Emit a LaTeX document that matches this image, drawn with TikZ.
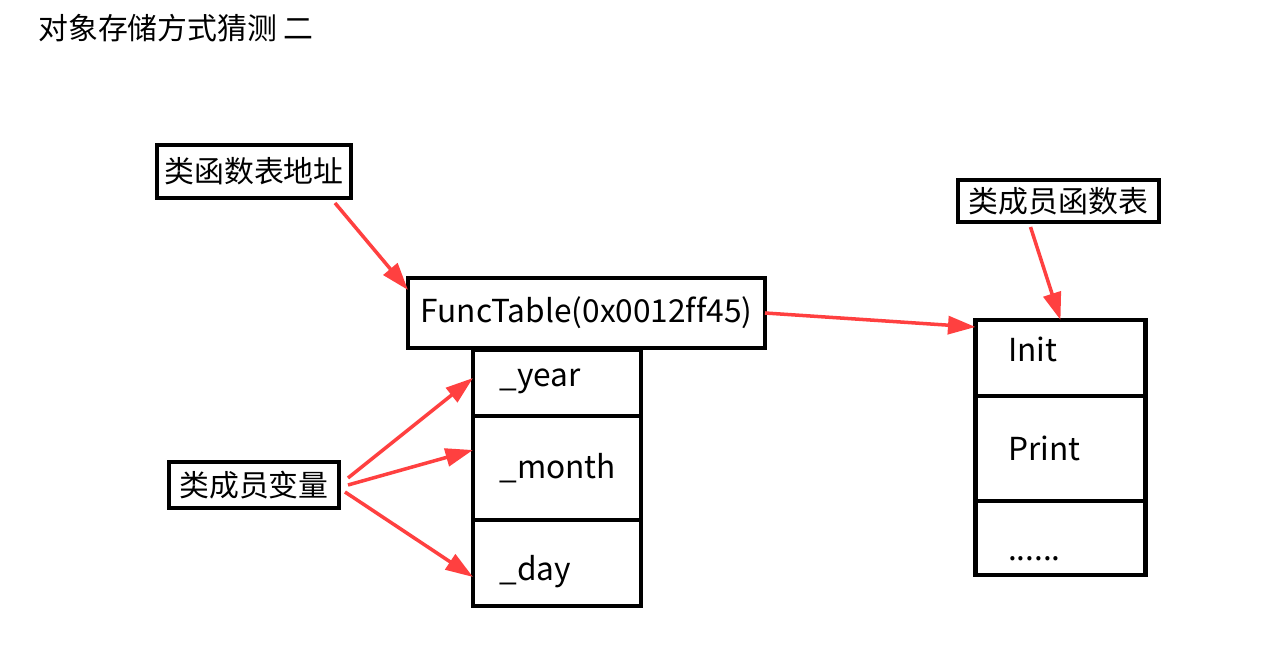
\documentclass[tikz,border=0pt]{standalone}
\usepackage{fontspec}
\setmainfont[Ligatures=NoCommon]{Noto Sans CJK SC}
\usepackage{tikz}
\usetikzlibrary{arrows.meta,positioning}
\definecolor{arrowred}{RGB}{255,64,64}
\newcommand{\shiftup}[2]{\raisebox{#1}{#2}}

\begin{document}
\begin{tikzpicture}[
        font=\fontsize{17pt}{20pt}\selectfont,
        box/.style={draw,line width=2.3pt,outer sep=0pt,inner sep=0pt,
                    minimum height=1cm},
        field/.style={box,minimum width=3.36cm,text width=2.3cm,
                      align=left,inner xsep=0.53cm,
                      font=\fontsize{18pt}{20pt}\selectfont},
        slot/.style={box,minimum width=3.34cm,text width=2.1cm,
                     align=left,inner xsep=0.65cm,
                     font=\fontsize{18pt}{20pt}\selectfont},
        arr/.style={-{Triangle[length=0.55cm,width=0.36cm]},line width=2pt,
                    arrowred},
      ]
        \useasboundingbox (0,0) rectangle (25.22,13.14);
        \node[anchor=west,inner sep=0pt](title) at (0.76,12.58){对象存储方式猜测\hspace{0.2em}二};
        % object layout
        \node[box,minimum width=3.88cm,minimum height=1.06cm](addr) at (5.08,9.71){类函数表地址};
        \node[box,minimum width=7.14cm,minimum height=1.4cm,
              font=\fontsize{18pt}{20pt}\selectfont](ft) at (11.73,6.88){FuncTable(0x0012ff45)};
        \node[field,minimum height=1.32cm](year) at (11.14,5.48){\shiftup{0.2cm}{\_year}};
        \node[field,minimum height=2.08cm,below=0pt of year](month){\shiftup{-0.28cm}{\_month}};
        \node[field,minimum height=1.72cm,below=0pt of month](day){\shiftup{-0.84cm}{\_day}};
        \node[box,minimum width=3.4cm,minimum height=0.92cm](mem) at (5.08,3.44){类成员变量};
        % function table
        \node[box,minimum width=4.02cm,minimum height=0.84cm](ftab) at (21.17,9.12){类成员函数表};
        \node[slot,minimum height=1.52cm](init) at (21.21,5.98){\shiftup{0.36cm}{Init}};
        \node[slot,minimum height=2.1cm,below=0pt of init](print){\shiftup{-0.04cm}{Print}};
        \node[slot,minimum height=1.48cm,below=0pt of print](dots){\shiftup{-0.9cm}{......}};
        \draw[arr]([xshift=-0.32cm,yshift=-0.1cm]addr.south east)--([yshift=-0.24cm]ft.north west);
        \draw[arr](ft.east)--([yshift=-0.14cm]init.north west);
        \draw[arr]([xshift=-0.56cm,yshift=-0.1cm]ftab.south)--(init.north);
        \draw[arr]([xshift=0.18cm,yshift=0.14cm]mem.east)--([yshift=0.1cm]year.west);
        \draw[arr]([xshift=0.18cm]mem.east)--([yshift=0.36cm]month.west);
        \draw[arr]([xshift=0.12cm,yshift=-0.14cm]mem.east)--([yshift=-0.28cm]day.west);
      \end{tikzpicture}
\end{document}
